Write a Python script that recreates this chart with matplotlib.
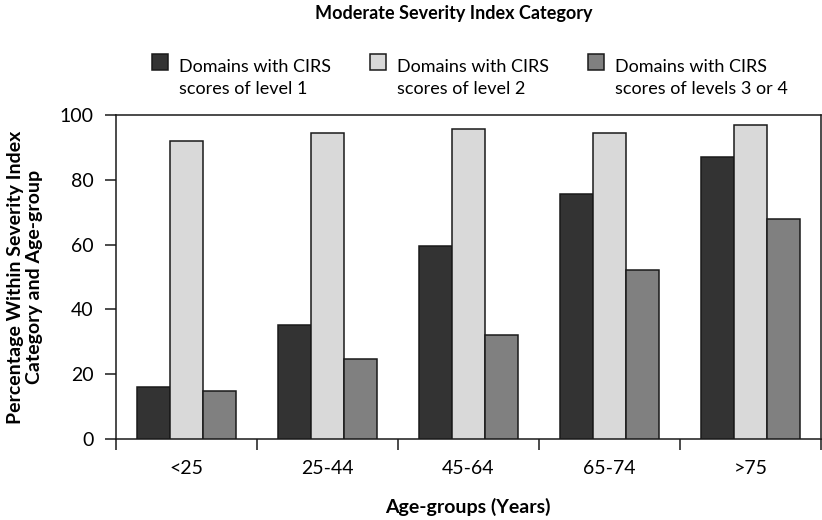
import matplotlib
matplotlib.use("Agg")
import matplotlib.pyplot as plt
from matplotlib.patches import Patch, Rectangle
from matplotlib.legend_handler import HandlerBase
import numpy as np

plt.rcParams['font.family'] = ['Lato', 'DejaVu Sans']

categories = ["<25", "25-44", "45-64", "65-74", ">75"]
series_names = ["Domains with CIRS\nscores of level 1",
                "Domains with CIRS\nscores of level 2",
                "Domains with CIRS\nscores of levels 3 or 4"]
level1 = [16.0, 35.2, 59.7, 75.7, 87.0]
level2 = [92.1, 94.4, 95.8, 94.4, 97.0]
level34 = [14.9, 24.8, 32.1, 52.2, 68.0]
colors = ["#333333", "#d9d9d9", "#808080"]

FS = 14
LFS = 13
SQ = 11.7      # legend square size in points
SQ_BOTTOM = 10.2  # square bottom above last baseline, points


class TopSquare(HandlerBase):
    def create_artists(self, legend, orig_handle, xdescent, ydescent, width,
                       height, fontsize, trans):
        r = Rectangle((-xdescent, SQ_BOTTOM), SQ, SQ,
                      facecolor=orig_handle.get_facecolor(),
                      edgecolor=orig_handle.get_edgecolor(),
                      linewidth=orig_handle.get_linewidth(), transform=trans)
        return [r]


fig = plt.figure(figsize=(8.22, 5.20), dpi=100)
ax = fig.add_axes([116/822, 1-439/520, (821-116)/822, (439-115)/520])

x = np.arange(len(categories)) + 0.5
w = 33/141
for i, vals in enumerate([level1, level2, level34]):
    ax.bar(x + (i-1)*w, vals, width=w, color=colors[i], edgecolor="#1a1a1a",
           linewidth=1.1, zorder=3)

ax.set_xlim(0, len(categories))
ax.set_ylim(0, 100)
ax.set_yticks([0, 20, 40, 60, 80, 100])
ax.tick_params(axis='y', length=8, width=1.1, labelsize=FS, pad=8, color="#1a1a1a")
ax.set_xticks(x)
ax.set_xticklabels(categories)
ax.tick_params(axis='x', which='major', length=0, labelsize=FS, pad=15)
ax.set_xticks(np.arange(len(categories)+1), minor=True)
ax.tick_params(axis='x', which='minor', length=8, width=1.1, color="#1a1a1a")
for s in ax.spines.values():
    s.set_linewidth(1.1)
    s.set_color("#1a1a1a")

ax.set_ylabel("Percentage Within Severity Index\nCategory and Age-group",
              fontsize=FS, fontweight='bold', labelpad=12, linespacing=1.15)
fig.text(468/822, 1-507/520, "Age-groups (Years)", fontsize=FS, fontweight='bold',
         ha='center', va='center')
fig.text(454/822, 1-13/520, "Moderate Severity Index Category", fontsize=13,
         fontweight='bold', ha='center', va='center')

square_left_px = [152, 370, 588]
for c, name, xl in zip(colors, series_names, square_left_px):
    h = Patch(facecolor=c, edgecolor="#1a1a1a", linewidth=1.1)
    leg = fig.legend([h], [name], loc='upper left',
                     bbox_to_anchor=(xl/822, 1-59/520), frameon=False,
                     fontsize=LFS, borderpad=0, borderaxespad=0,
                     handlelength=SQ/LFS, handleheight=1.0, handletextpad=0.62,
                     handler_map={Patch: TopSquare()})
    for t in leg.get_texts():
        t.set_linespacing(1.45)

fig.savefig("out.png", dpi=100)
